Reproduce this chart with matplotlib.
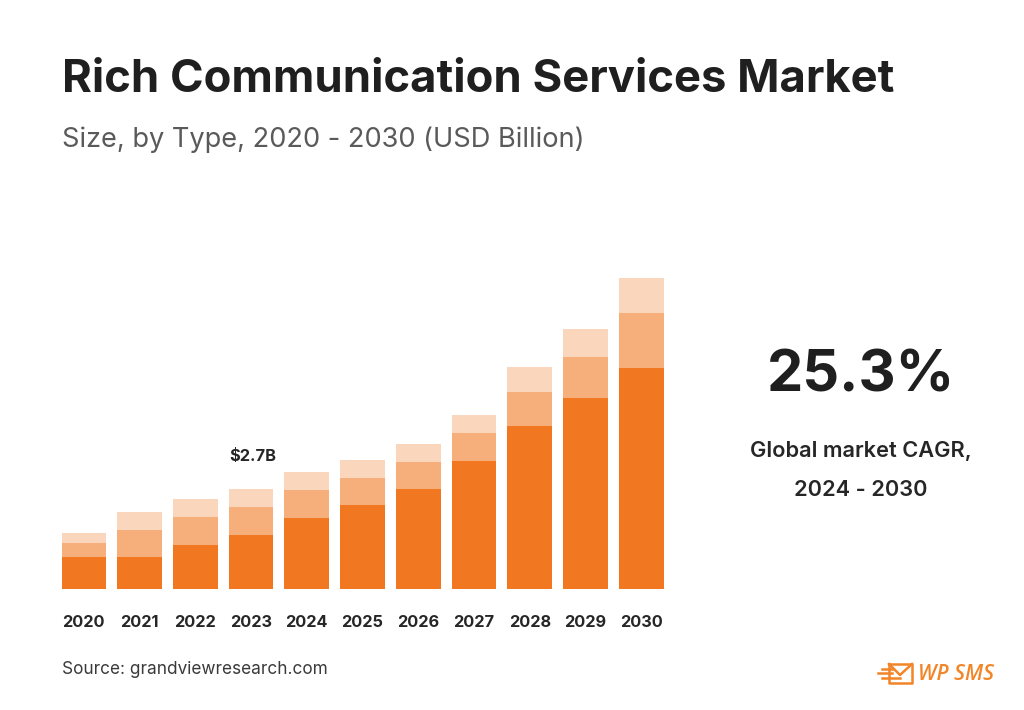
import matplotlib
matplotlib.use("Agg")
import numpy as np
import matplotlib.pyplot as plt

plt.rcParams['font.family'] = ['Inter', 'DejaVu Sans']

years = ['2020', '2021', '2022', '2023', '2024', '2025', '2026', '2027', '2028', '2029', '2030']
type_a = [0.86, 0.86, 1.20, 1.47, 1.93, 2.28, 2.71, 3.46, 4.40, 5.17, 5.99]
type_b = [0.39, 0.74, 0.74, 0.74, 0.74, 0.73, 0.73, 0.76, 0.92, 1.10, 1.47]
type_c = [0.28, 0.49, 0.50, 0.49, 0.49, 0.49, 0.49, 0.49, 0.68, 0.76, 0.94]

W, H = 1024, 710
fig = plt.figure(figsize=(W / 100, H / 100), dpi=100, facecolor='white')

# overlay in pixel coordinates for text and the logo
page = fig.add_axes([0, 0, 1, 1])
page.set_xlim(0, W)
page.set_ylim(H, 0)
page.axis('off')

ax = fig.add_axes([61.5 / W, (H - 589.3) / H, 602 / W, 311 / H])
x = np.arange(len(years))
a = np.array(type_a)
b = np.array(type_b)
c = np.array(type_c)
ax.bar(x, a, width=0.8, color='#F17720')
ax.bar(x, b, width=0.8, bottom=a, color='#F6AE7A')
ax.bar(x, c, width=0.8, bottom=a + b, color='#FAD6BC')
ax.set_xlim(-0.4, 10.4)
ax.set_ylim(0, 8.4)
ax.set_yticks([])
ax.set_xticks(x)
ax.set_xticklabels(years, fontsize=11.8, fontweight='bold', color='#262626')
ax.tick_params(axis='x', length=0, pad=18.5)
for s in ax.spines.values():
    s.set_visible(False)
ax.patch.set_alpha(0)

ax.annotate('$2.7B', (3, a[3] + b[3] + c[3]), xytext=(1, 18), textcoords='offset points',
            ha='center', va='bottom', fontsize=11.8, fontweight='bold', color='#262626')

page.text(62, 80, 'Rich Communication Services Market', fontsize=32.7, fontweight='bold',
          color='#1f1f1f', va='center', ha='left')
page.text(62, 140, 'Size, by Type, 2020 - 2030 (USD Billion)', fontsize=19.6,
          color='#5a5a5a', va='center', ha='left')
page.text(861, 376, '25.3%', fontsize=41.5, fontweight='bold', color='#1f1f1f', va='center', ha='center')
page.text(861, 451, 'Global market CAGR,', fontsize=15.7, fontweight='semibold', color='#262626', va='center', ha='center')
page.text(861, 490, '2024 - 2030', fontsize=15.7, fontweight='semibold', color='#262626', va='center', ha='center')
page.text(62, 669, 'Source: grandviewresearch.com', fontsize=12.4, color='#3a3a3a', va='center', ha='left')

# logo
orange = '#F28527'
page.plot([889, 912, 912, 889, 889], [664, 664, 682.5, 682.5, 664], color=orange, lw=1.8)
page.plot([889, 900, 912], [664, 675, 664], color=orange, lw=1.8)
page.plot([878, 892], [673, 673], color=orange, lw=1.8)
page.plot([882, 892], [669, 669], color=orange, lw=1.8)
page.plot([882, 900], [678, 678], color=orange, lw=1.8)
page.text(918, 675, 'WP SMS', family='Open Sans', fontsize=15.2, style='italic', fontweight='semibold',
          color=orange, va='center', ha='left')

fig.savefig('out.png', dpi=100)
